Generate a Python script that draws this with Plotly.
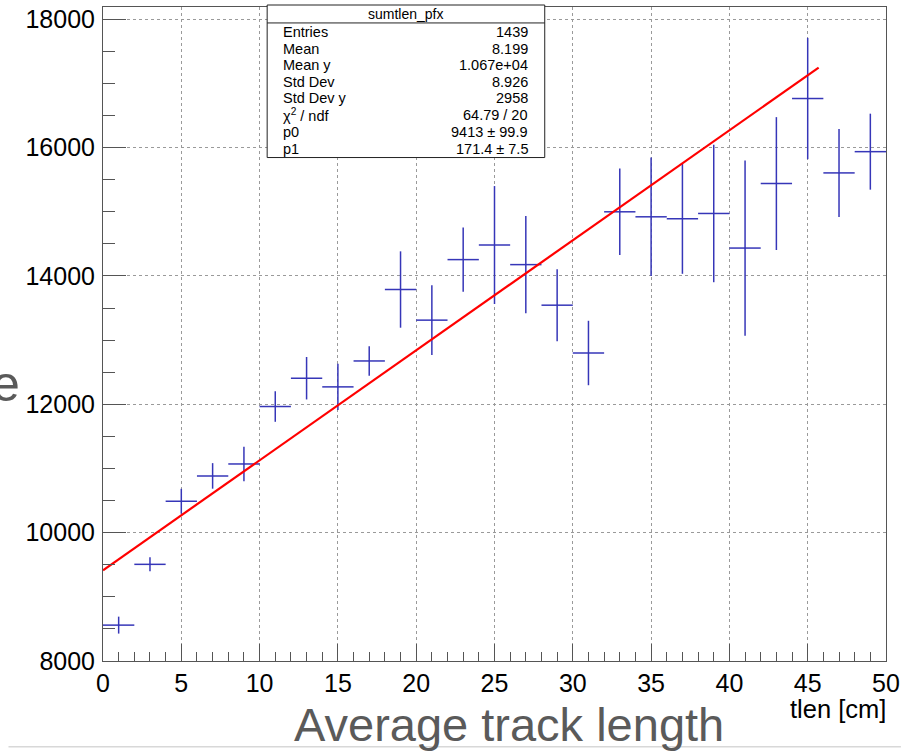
import plotly.graph_objects as go

# ---- data ----
x_centers = [1, 3, 5, 7, 9, 11, 13, 15, 17, 19, 21, 23, 25,
             27, 29, 31, 33, 35, 37, 39, 41, 43, 45, 47, 49]
y_means = [8559, 9506, 10489, 10884, 11070, 11965, 12406, 12271, 12675, 13788,
           13311, 14254, 14481, 14176, 13544, 12799, 14999, 14921, 14890, 14973,
           14434, 15439, 16764, 15605, 15936]
y_errs = [132, 109, 194, 199, 269, 238, 331, 362, 230, 595,
          543, 500, 919, 759, 561, 502, 673, 924, 857, 1071,
          1365, 1035, 945, 686, 592]
bin_half_width = 1.0

fit_p0 = 9413
fit_p1 = 171.4
fit_x_range = [0, 45.7]

stats_title = "sumtlen_pfx"
stats_labels = ["Entries", "Mean", "Mean y", "Std Dev", "Std Dev y",
                "χ<sup>2</sup> / ndf", "p0", "p1"]
stats_values = ["1439", "8.199", "1.067e+04", "8.926", "2958",
                "64.79 / 20", "9413 ± 99.9", "171.4 ± 7.5"]

x_ticks = [0, 5, 10, 15, 20, 25, 30, 35, 40, 45, 50]
y_ticks = [8000, 10000, 12000, 14000, 16000, 18000]
y_tick_labels = ["8000", "10000", "12000", "14000", "16000", "18000"]

# ---- figure geometry ----
W, H = 905, 751
L, R, T, B = 103, 15, 5, 90
PW, PH = W - L - R, H - T - B


def px_x(px):
    return (px - L) / PW


def px_y(py):
    return (H - B - py) / PH


FONT = "Liberation Sans, Arial, Helvetica, sans-serif"
BLUE = "#3636b8"

fig = go.Figure()

fig.add_trace(go.Scatter(
    x=x_centers, y=y_means, mode="markers",
    marker=dict(size=1, color=BLUE),
    error_x=dict(type="constant", value=bin_half_width, color=BLUE,
                 thickness=1.5, width=0),
    error_y=dict(type="data", array=y_errs, color=BLUE,
                 thickness=1.5, width=0),
    showlegend=False,
))

fx = fit_x_range
fy = [fit_p0 + fit_p1 * v for v in fx]
fig.add_trace(go.Scatter(x=fx, y=fy, mode="lines",
                         line=dict(color="#ff0000", width=2.2),
                         showlegend=False))

axis_common = dict(
    showline=True, linecolor="#555", linewidth=1, mirror=True,
    ticks="inside", tickcolor="#555", tickwidth=1,
    showgrid=True, gridcolor="#9a9a9a", griddash="dot", gridwidth=1,
    zeroline=False,
    tickfont=dict(family=FONT, size=25, color="black"),
)

fig.update_xaxes(range=[0, 50], tickvals=x_ticks, ticklen=17,
                 minor=dict(dtick=1, ticklen=9, tickcolor="#555", ticks="inside", showgrid=False),
                 ticklabelstandoff=0,
                 **axis_common)
fig.update_yaxes(range=[8000, 18190], tickvals=y_ticks, ticktext=y_tick_labels, ticklen=23,
                 minor=dict(dtick=500, ticklen=12, tickcolor="#555", ticks="inside", showgrid=False),
                 ticklabelstandoff=2,
                 **axis_common)

shapes = []
# stats box
bx0, bx1, by0, by1, bsep = 268, 547, 3, 156, 21
shapes.append(dict(type="rect", xref="paper", yref="paper",
                   x0=px_x(bx0), x1=px_x(bx1), y0=px_y(by1), y1=px_y(by0),
                   line=dict(color="#222", width=1), fillcolor="white", layer="above"))
shapes.append(dict(type="line", xref="paper", yref="paper",
                   x0=px_x(bx0), x1=px_x(bx1), y0=px_y(bsep), y1=px_y(bsep),
                   line=dict(color="#222", width=1), layer="above"))
# bottom slide rule
shapes.append(dict(type="line", xref="paper", yref="paper",
                   x0=px_x(8), x1=px_x(905), y0=px_y(747), y1=px_y(747),
                   line=dict(color="#d8d8d8", width=1.5)))

annotations = []
annotations.append(dict(text=stats_title, xref="paper", yref="paper",
                        x=px_x((bx0 + bx1) / 2), y=px_y(12), xanchor="center", yanchor="middle",
                        showarrow=False, font=dict(family=FONT, size=14, color="black")))
row_y = [30, 47, 63, 80, 96, 113, 130, 147]
for lab, val, ry in zip(stats_labels, stats_values, row_y):
    annotations.append(dict(text=lab, xref="paper", yref="paper",
                            x=px_x(282), y=px_y(ry), xanchor="left", yanchor="middle",
                            showarrow=False, font=dict(family=FONT, size=14.5, color="black")))
    annotations.append(dict(text=val, xref="paper", yref="paper",
                            x=px_x(532), y=px_y(ry), xanchor="right", yanchor="middle",
                            showarrow=False, font=dict(family=FONT, size=14.5, color="black")))

annotations.append(dict(text="tlen [cm]", xref="paper", yref="paper",
                        x=px_x(892), y=px_y(709), xanchor="right", yanchor="middle",
                        showarrow=False, font=dict(family=FONT, size=25.5, color="black")))
annotations.append(dict(text="Average track length", xref="paper", yref="paper",
                        x=px_x(511), y=px_y(725), xanchor="center", yanchor="middle",
                        showarrow=False, font=dict(family=FONT, size=47, color="#5a5a5a")))
annotations.append(dict(text="e", xref="paper", yref="paper",
                        x=px_x(22), y=px_y(383), xanchor="right", yanchor="middle",
                        showarrow=False, font=dict(family=FONT, size=50, color="#5a5a5a")))

fig.update_layout(
    width=W, height=H,
    margin=dict(l=L, r=R, t=T, b=B),
    paper_bgcolor="white", plot_bgcolor="white",
    shapes=shapes, annotations=annotations,
    font=dict(family=FONT),
)

fig.write_html("out.html")
